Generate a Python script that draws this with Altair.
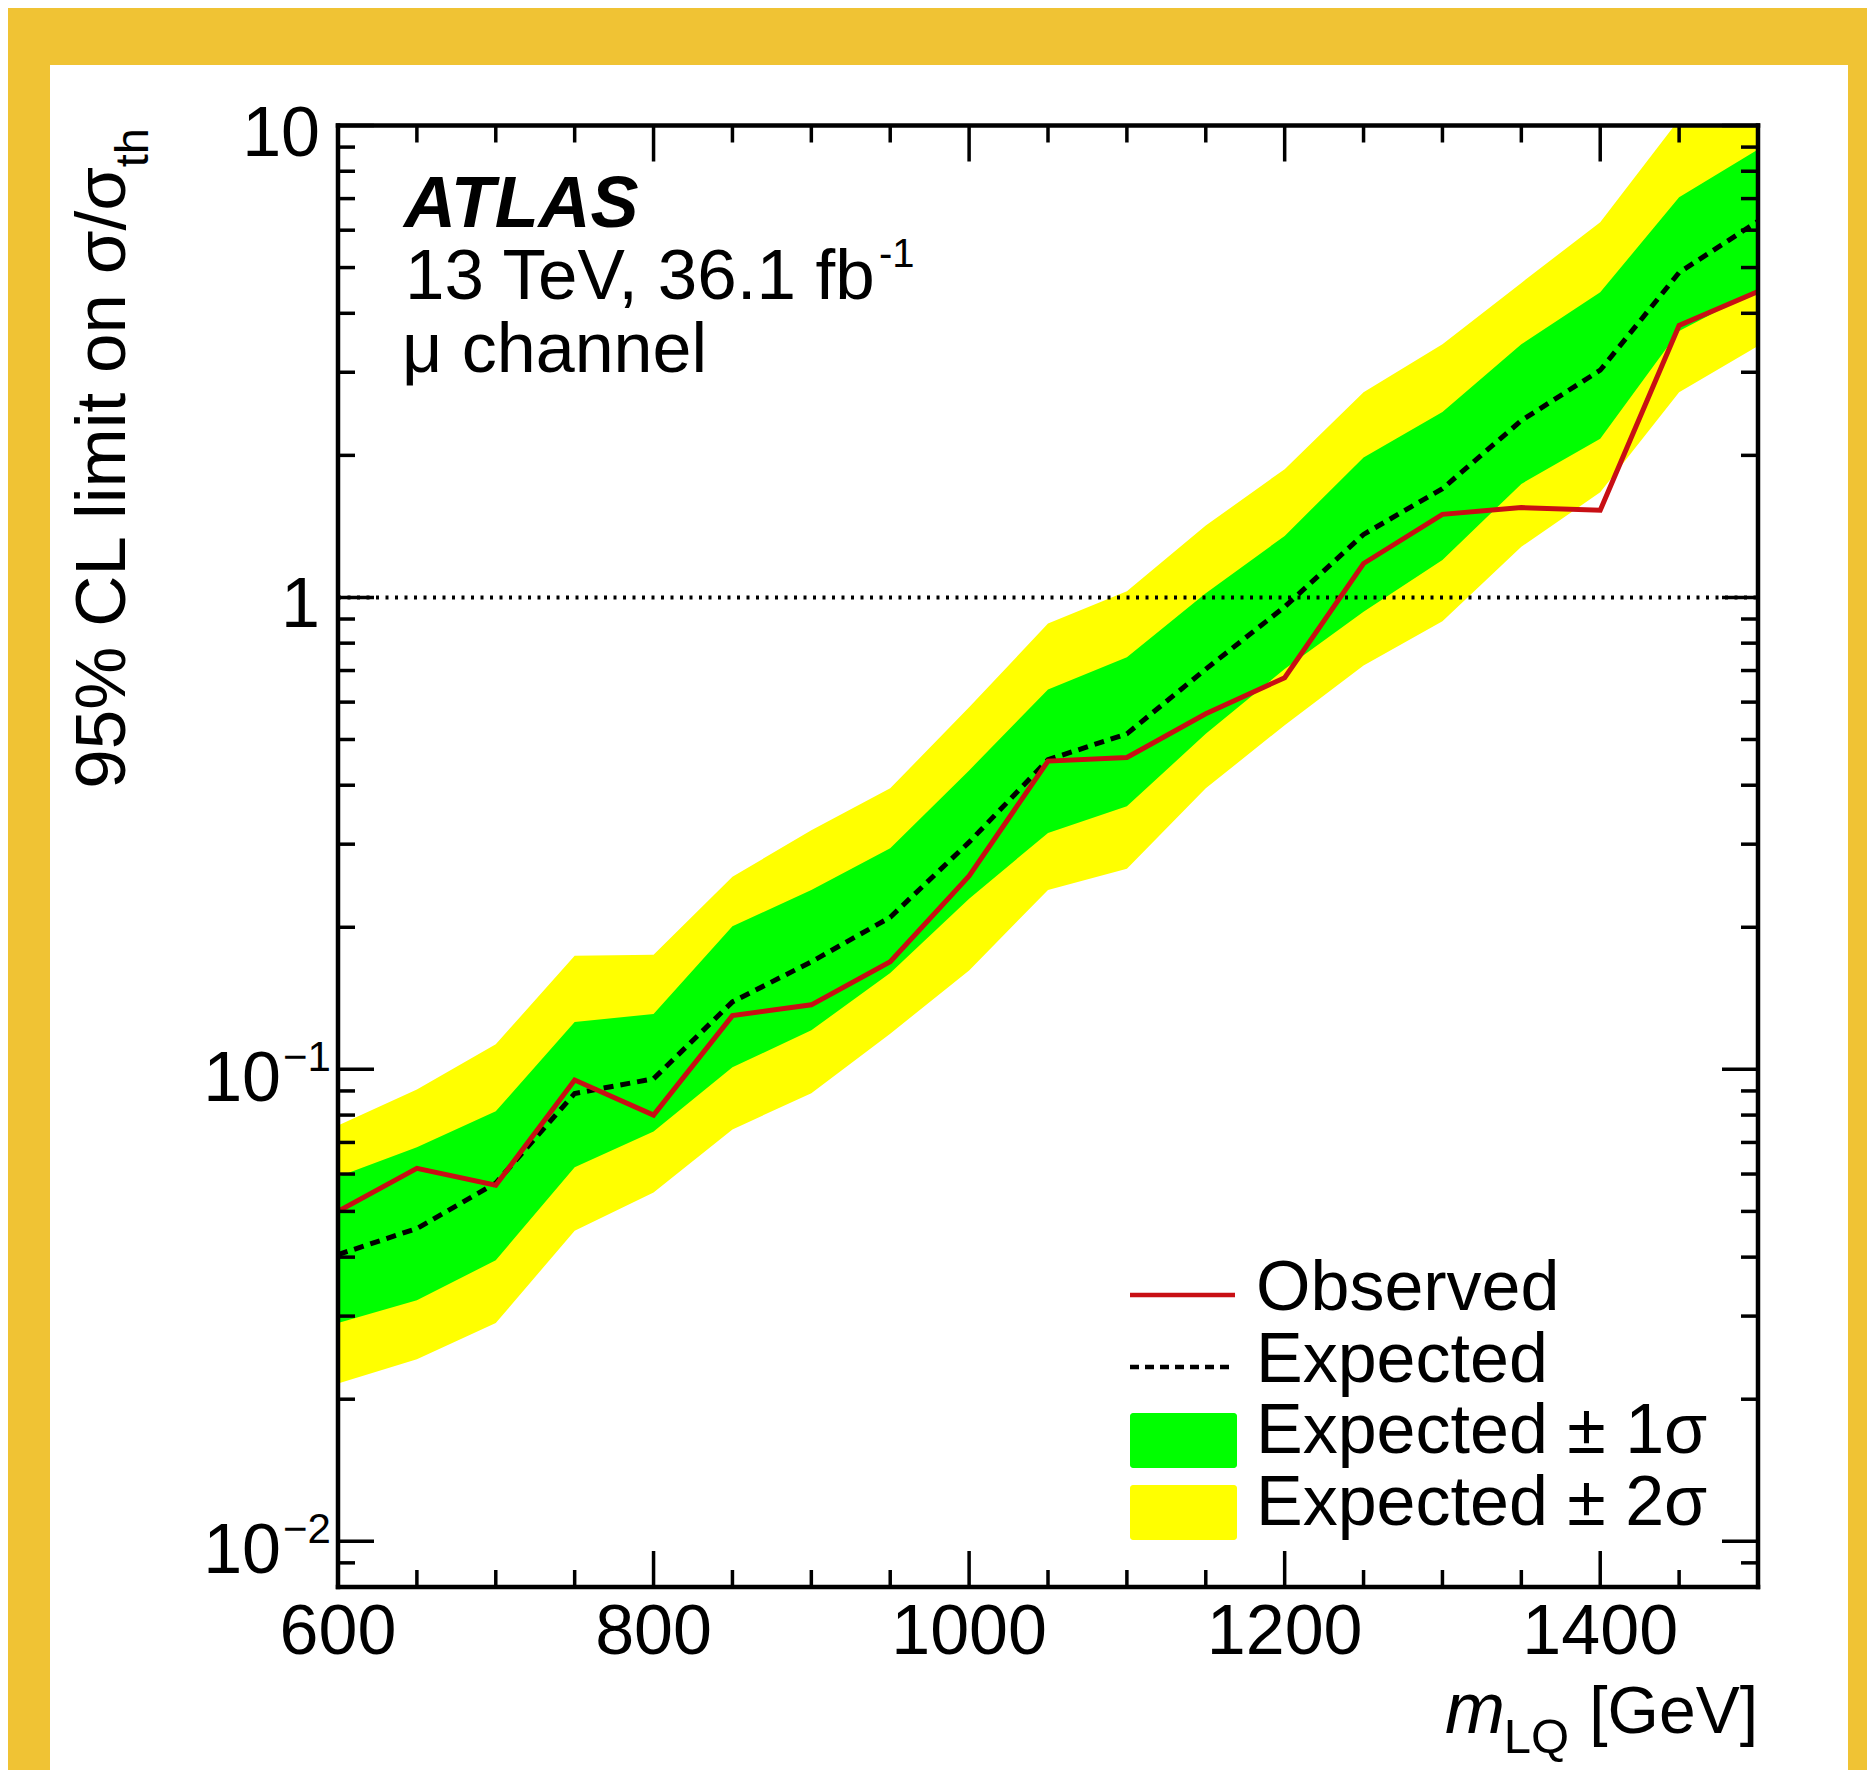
import altair as alt
import pandas as pd

# ---------------- data ----------------
mass = [600, 650, 700, 750, 800, 850, 900, 950, 1000, 1050, 1100, 1150,
        1200, 1250, 1300, 1350, 1400, 1450, 1500]
observed = [0.050, 0.0617, 0.0568, 0.0949, 0.080, 0.130, 0.137, 0.169, 0.257,
            0.450, 0.458, 0.567, 0.676, 1.18, 1.50, 1.55, 1.53, 3.77, 4.45]
expected = [0.0405, 0.046, 0.0574, 0.0889, 0.0955, 0.139, 0.169, 0.210, 0.303,
            0.453, 0.514, 0.705, 0.955, 1.36, 1.70, 2.37, 3.03, 4.88, 6.27]
plus1 = [0.0592, 0.0684, 0.0815, 0.126, 0.131, 0.201, 0.240, 0.294, 0.430,
         0.638, 0.747, 1.02, 1.35, 1.98, 2.47, 3.44, 4.43, 7.05, 8.9]
minus1 = [0.0290, 0.0324, 0.0394, 0.062, 0.0738, 0.101, 0.121, 0.160, 0.230,
          0.317, 0.361, 0.514, 0.705, 0.933, 1.20, 1.74, 2.17, 3.67, 4.48]
plus2 = [0.076, 0.0906, 0.113, 0.174, 0.175, 0.256, 0.321, 0.394, 0.585,
         0.880, 1.03, 1.42, 1.87, 2.72, 3.44, 4.64, 6.24, 10.3, 13.0]
minus2 = [0.0216, 0.0243, 0.0290, 0.0455, 0.0548, 0.0746, 0.089, 0.119, 0.162,
          0.240, 0.266, 0.394, 0.536, 0.717, 0.890, 1.28, 1.67, 2.72, 3.41]

x_major = [600, 800, 1000, 1200, 1400]
x_minor = [650, 700, 750, 850, 900, 950, 1050, 1100, 1150, 1250, 1300, 1350,
           1450, 1500]
x_labels = ["600", "800", "1000", "1200", "1400"]
y_major = [0.01, 0.1, 1, 10]
y_minor = [0.008, 0.009,
           0.02, 0.03, 0.04, 0.05, 0.06, 0.07, 0.08, 0.09,
           0.2, 0.3, 0.4, 0.5, 0.6, 0.7, 0.8, 0.9,
           2, 3, 4, 5, 6, 7, 8, 9]
y_plain_vals = [1, 10]
y_plain_labels = ["1", "10"]
y_exp_vals = [0.01, 0.1]
y_exp_base = ["10", "10"]
y_exp_sup = ["\u22122", "\u22121"]
legend_labels = ["Observed", "Expected", "Expected \u00b1 1\u03c3", "Expected \u00b1 2\u03c3"]

# ---------------- styling ----------------
W = 1420
H = 1461.5
FONT = "Liberation Sans"
RED = "#C80F14"
GREEN = "#00FF00"
YELLOW = "#FFFF00"
GOLD = "#F0C334"

xs = alt.Scale(domain=[600, 1500], nice=False, zero=False)
ys = alt.Scale(type="log", domain=[0.0080, 10], nice=False)

df = pd.DataFrame(dict(mass=mass, observed=observed, expected=expected,
                       p1=plus1, m1=minus1, p2=plus2, m2=minus2))
one = pd.DataFrame({"k": [0]})

X = alt.X("mass:Q", scale=xs, axis=None)


def Yq(field):
    return alt.Y(field, scale=ys, axis=None)


# white panel behind the plot
panel = alt.Chart(one).mark_rect(color="white").encode(
    x=alt.value(-288), x2=alt.value(1510), y=alt.value(-60.5), y2=alt.value(1700))

band2 = alt.Chart(df).mark_area(color=YELLOW, clip=True, opacity=1).encode(
    X, Yq("m2:Q"), alt.Y2("p2:Q"))
band1 = alt.Chart(df).mark_area(color=GREEN, clip=True, opacity=1).encode(
    X, Yq("m1:Q"), alt.Y2("p1:Q"))

unity = alt.Chart(pd.DataFrame({"a": [600], "b": [1500], "v": [1]})).mark_rule(
    color="black", strokeWidth=4, strokeDash=[3, 6.5]).encode(
    x=alt.X("a:Q", scale=xs, axis=None), x2="b:Q", y=Yq("v:Q"))

exp_line = alt.Chart(df).mark_line(color="black", strokeWidth=5,
                                   strokeDash=[10, 7], clip=True).encode(
    X, Yq("expected:Q"))
obs_line = alt.Chart(df).mark_line(color=RED, strokeWidth=5, clip=True).encode(
    X, Yq("observed:Q"))

# ticks (ROOT style: pointing inward, on all four sides)
TW = 3.5
MAJ = 36
MIN = 17
xmaj = pd.DataFrame({"v": x_major})
xmin = pd.DataFrame({"v": x_minor})
ymaj = pd.DataFrame({"v": y_major})
ymin = pd.DataFrame({"v": y_minor})
XV = alt.X("v:Q", scale=xs, axis=None)
YV = alt.Y("v:Q", scale=ys, axis=None)
ticks = []
for d, ln in ((xmaj, MAJ), (xmin, MIN)):
    ticks.append(alt.Chart(d).mark_rule(color="black", strokeWidth=TW).encode(
        XV, y=alt.value(H), y2=alt.value(H - ln)))
    ticks.append(alt.Chart(d).mark_rule(color="black", strokeWidth=TW).encode(
        XV, y=alt.value(0), y2=alt.value(ln)))
for d, ln in ((ymaj, MAJ), (ymin, MIN)):
    ticks.append(alt.Chart(d).mark_rule(color="black", strokeWidth=TW).encode(
        YV, x=alt.value(0), x2=alt.value(ln)))
    ticks.append(alt.Chart(d).mark_rule(color="black", strokeWidth=TW).encode(
        YV, x=alt.value(W), x2=alt.value(W - ln)))

FW = 4.5
frame = [
    alt.Chart(one).mark_rule(color="black", strokeWidth=FW, strokeCap="square").encode(
        x=alt.value(0), x2=alt.value(W), y=alt.value(0)),
    alt.Chart(one).mark_rule(color="black", strokeWidth=FW, strokeCap="square").encode(
        x=alt.value(0), x2=alt.value(W), y=alt.value(H)),
    alt.Chart(one).mark_rule(color="black", strokeWidth=FW, strokeCap="square").encode(
        x=alt.value(0), y=alt.value(0), y2=alt.value(H)),
    alt.Chart(one).mark_rule(color="black", strokeWidth=FW, strokeCap="square").encode(
        x=alt.value(W), y=alt.value(0), y2=alt.value(H)),
]

# tick labels
TL = 70
xlab = alt.Chart(pd.DataFrame({"v": x_major, "t": x_labels})).mark_text(
    font=FONT, fontSize=TL, align="center", baseline="alphabetic", color="black").encode(
    XV, y=alt.value(H + 67), text="t:N")
ylab_plain = alt.Chart(pd.DataFrame({"v": y_plain_vals, "t": y_plain_labels})).mark_text(
    font=FONT, fontSize=TL, align="right", baseline="alphabetic", dy=30, color="black").encode(
    YV, x=alt.value(-18), text="t:N")
ylab_base = alt.Chart(pd.DataFrame({"v": y_exp_vals, "t": y_exp_base})).mark_text(
    font=FONT, fontSize=TL, align="right", baseline="alphabetic", dy=32, color="black").encode(
    YV, x=alt.value(-57), text="t:N")
ylab_sup = alt.Chart(pd.DataFrame({"v": y_exp_vals, "t": y_exp_sup})).mark_text(
    font=FONT, fontSize=42, align="left", baseline="alphabetic", dy=2, color="black").encode(
    YV, x=alt.value(-55), text="t:N")


def label(text, x, y, size, align="left", angle=0, style="normal", weight="normal"):
    return alt.Chart(pd.DataFrame({"t": [text]})).mark_text(
        font=FONT, fontSize=size, align=align, baseline="alphabetic", angle=angle,
        fontStyle=style, fontWeight=weight, color="black").encode(
        x=alt.value(x), y=alt.value(y), text="t:N")


texts = [
    # axis titles
    label("95% CL limit on \u03c3/\u03c3", -213, 41.5, 71, align="right", angle=270),
    label("th", -190, 2.5, 47, align="right", angle=270),
    label("[GeV]", W, H + 146, 66, align="right"),
    label("LQ", 1231, H + 166, 49, align="right"),
    label("m", 1167, H + 146, 72, align="right", style="italic"),
    # ATLAS block
    label("ATLAS", 66, 101.5, 72, style="italic", weight="bold"),
    label("13 TeV, 36.1 fb", 67, 173.5, 71),
    label("-1", 541, 141, 40),
    label("\u03bc channel", 64, 246.5, 70),
]

# legend (drawn with marks)
LX0, LX1, LT = 792, 897, 918
leg = [
    alt.Chart(one).mark_rule(color=RED, strokeWidth=4.5).encode(
        x=alt.value(LX0), x2=alt.value(LX1), y=alt.value(1169.5)),
    alt.Chart(one).mark_rule(color="black", strokeWidth=4.5, strokeDash=[9, 6]).encode(
        x=alt.value(LX0), x2=alt.value(LX1), y=alt.value(1241.5)),
    alt.Chart(one).mark_rect(color=GREEN, cornerRadius=3).encode(
        x=alt.value(LX0), x2=alt.value(LX1 + 2), y=alt.value(1287.5), y2=alt.value(1342.5)),
    alt.Chart(one).mark_rect(color=YELLOW, cornerRadius=3).encode(
        x=alt.value(LX0), x2=alt.value(LX1 + 2), y=alt.value(1359.5), y2=alt.value(1414.5)),
]
for lab, yb in zip(legend_labels, [1184.5, 1256.5, 1327.5, 1399.5]):
    leg.append(label(lab, LT, yb, 70))

chart = alt.layer(
    panel, band2, band1, unity, exp_line, obs_line, *ticks, *frame,
    xlab, ylab_plain, ylab_base, ylab_sup, *texts, *leg
).properties(
    width=W, height=H,
    padding={"left": 330, "top": 117.5, "right": 109, "bottom": 183},
    autosize=alt.AutoSizeParams(type="none"),
    background=GOLD,
).configure_view(stroke="transparent")

chart.save("out.html", embed_options={"renderer": "svg", "actions": False})
